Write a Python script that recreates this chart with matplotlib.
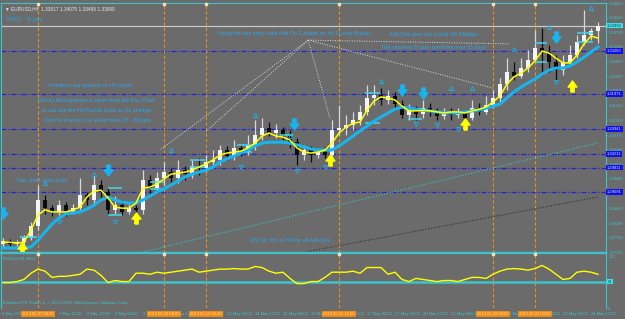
import matplotlib
matplotlib.use("Agg")
import matplotlib.pyplot as plt

plt.rcParams['font.family'] = ['Liberation Sans', 'DejaVu Sans']

# ---- DATA (EURUSD H4) ----
opens = [1.2756, 1.2765, 1.2756, 1.2762, 1.2774, 1.2810, 1.2886, 1.2862, 1.2851, 1.2871,
         1.2851, 1.2862, 1.2901, 1.2886, 1.2930, 1.2909, 1.2857, 1.2871, 1.2851, 1.2862,
         1.2857, 1.2945, 1.2921, 1.2950, 1.2968, 1.2950, 1.2974, 1.2962, 1.2986, 1.2980,
         1.2998, 1.3004, 1.3033, 1.3015, 1.3039, 1.3027, 1.3048, 1.3077, 1.3098, 1.3083,
         1.3092, 1.3074, 1.3056, 1.3018, 1.3033, 1.3018, 1.3027, 1.3018, 1.3092, 1.3098,
         1.3106, 1.3121, 1.3145, 1.3186, 1.3195, 1.3180, 1.3192, 1.3168, 1.3136, 1.3150,
         1.3139, 1.3156, 1.3145, 1.3133, 1.3145, 1.3136, 1.3142, 1.3127, 1.3156, 1.3145,
         1.3165, 1.3186, 1.3227, 1.3262, 1.3251, 1.3274, 1.3298, 1.3333, 1.3321, 1.3292,
         1.3268, 1.3292, 1.3312, 1.3351, 1.3371, 1.3382]
closes = [1.2765, 1.2756, 1.2762, 1.2774, 1.2810, 1.2886, 1.2862, 1.2851, 1.2871, 1.2851,
          1.2862, 1.2901, 1.2886, 1.2930, 1.2909, 1.2857, 1.2871, 1.2851, 1.2862, 1.2857,
          1.2945, 1.2921, 1.2950, 1.2968, 1.2950, 1.2974, 1.2962, 1.2986, 1.2980, 1.2998,
          1.3004, 1.3033, 1.3015, 1.3039, 1.3027, 1.3048, 1.3077, 1.3098, 1.3083, 1.3092,
          1.3074, 1.3056, 1.3018, 1.3033, 1.3018, 1.3027, 1.3018, 1.3092, 1.3098, 1.3106,
          1.3121, 1.3145, 1.3186, 1.3195, 1.3180, 1.3192, 1.3168, 1.3136, 1.3150, 1.3139,
          1.3156, 1.3145, 1.3133, 1.3145, 1.3136, 1.3142, 1.3127, 1.3156, 1.3145, 1.3165,
          1.3186, 1.3227, 1.3262, 1.3251, 1.3274, 1.3298, 1.3333, 1.3321, 1.3292, 1.3268,
          1.3292, 1.3312, 1.3351, 1.3371, 1.3382, 1.3399]
highs = [1.2774, 1.2771, 1.2768, 1.2783, 1.2821, 1.2930, 1.2901, 1.2871, 1.2886, 1.2880,
         1.2874, 1.2950, 1.2909, 1.2956, 1.2945, 1.2921, 1.2898, 1.2886, 1.2874, 1.2871,
         1.2974, 1.2959, 1.2968, 1.2998, 1.2980, 1.3004, 1.2986, 1.3004, 1.3010, 1.3018,
         1.3033, 1.3048, 1.3045, 1.3062, 1.3048, 1.3077, 1.3121, 1.3127, 1.3115, 1.3109,
         1.3101, 1.3092, 1.3068, 1.3048, 1.3045, 1.3039, 1.3042, 1.3121, 1.3165, 1.3136,
         1.3145, 1.3165, 1.3224, 1.3224, 1.3215, 1.3209, 1.3203, 1.3180, 1.3168, 1.3162,
         1.3180, 1.3171, 1.3156, 1.3156, 1.3156, 1.3156, 1.3150, 1.3180, 1.3171, 1.3192,
         1.3209, 1.3245, 1.3303, 1.3292, 1.3303, 1.3327, 1.3386, 1.3392, 1.3342, 1.3312,
         1.3312, 1.3342, 1.3371, 1.3445, 1.3392, 1.3408]
lows = [1.2748, 1.2751, 1.2748, 1.2754, 1.2768, 1.2798, 1.2845, 1.2839, 1.2842, 1.2839,
        1.2845, 1.2857, 1.2871, 1.2877, 1.2892, 1.2842, 1.2845, 1.2842, 1.2845, 1.2839,
        1.2845, 1.2901, 1.2909, 1.2930, 1.2939, 1.2936, 1.2945, 1.2950, 1.2959, 1.2968,
        1.2980, 1.2989, 1.3004, 1.3004, 1.3015, 1.3018, 1.3033, 1.3062, 1.3074, 1.3068,
        1.3062, 1.3039, 1.2989, 1.3004, 1.2998, 1.3010, 1.3010, 1.3004, 1.3077, 1.3077,
        1.3092, 1.3106, 1.3136, 1.3165, 1.3165, 1.3168, 1.3156, 1.3127, 1.3121, 1.3121,
        1.3127, 1.3133, 1.3121, 1.3124, 1.3121, 1.3127, 1.3106, 1.3121, 1.3136, 1.3139,
        1.3156, 1.3174, 1.3209, 1.3239, 1.3245, 1.3262, 1.3292, 1.3253, 1.3262, 1.3239,
        1.3253, 1.3283, 1.3303, 1.3342, 1.3356, 1.3349]

# fast (yellow) and slow (blue) moving averages
ma_fast = [1.2762, 1.2762, 1.2759, 1.2762, 1.2798, 1.2842, 1.2857, 1.2851, 1.2851, 1.2851,
           1.2857, 1.2865, 1.2895, 1.2912, 1.2915, 1.2892, 1.2865, 1.2862, 1.2862, 1.2877,
           1.2921, 1.2924, 1.2933, 1.2948, 1.2962, 1.2965, 1.2968, 1.2974, 1.2983, 1.2992,
           1.3004, 1.3018, 1.3024, 1.3027, 1.3030, 1.3039, 1.3053, 1.3074, 1.3083, 1.3074,
           1.3071, 1.3062, 1.3039, 1.3027, 1.3024, 1.3027, 1.3033, 1.3053, 1.3083, 1.3100,
           1.3112, 1.3115, 1.3150, 1.3177, 1.3189, 1.3186, 1.3180, 1.3162, 1.3148, 1.3148,
           1.3150, 1.3148, 1.3145, 1.3142, 1.3145, 1.3145, 1.3142, 1.3148, 1.3153, 1.3159,
           1.3174, 1.3192, 1.3227, 1.3248, 1.3259, 1.3274, 1.3295, 1.3324, 1.3318, 1.3303,
           1.3289, 1.3289, 1.3312, 1.3345, 1.3368, 1.3362]
ma_slow = [1.2745, 1.2745, 1.2745, 1.2745, 1.2748, 1.2768, 1.2792, 1.2815, 1.2833, 1.2845,
           1.2848, 1.2851, 1.2859, 1.2871, 1.2886, 1.2895, 1.2886, 1.2880, 1.2877, 1.2877,
           1.2886, 1.2898, 1.2910, 1.2918, 1.2930, 1.2942, 1.2954, 1.2962, 1.2968, 1.2974,
           1.2983, 1.2998, 1.3007, 1.3015, 1.3024, 1.3033, 1.3045, 1.3053, 1.3056, 1.3056,
           1.3056, 1.3053, 1.3048, 1.3042, 1.3036, 1.3033, 1.3033, 1.3033, 1.3045, 1.3059,
           1.3074, 1.3089, 1.3103, 1.3118, 1.3130, 1.3142, 1.3153, 1.3159, 1.3156, 1.3153,
           1.3150, 1.3148, 1.3145, 1.3142, 1.3142, 1.3142, 1.3145, 1.3148, 1.3150, 1.3156,
           1.3162, 1.3168, 1.3186, 1.3204, 1.3218, 1.3230, 1.3242, 1.3256, 1.3268, 1.3274,
           1.3274, 1.3280, 1.3292, 1.3306, 1.3321, 1.3336]

rsi = [49, 49, 51, 55, 67, 75, 71, 59, 61, 61, 63, 65, 75, 73, 63, 49, 53, 51, 51, 67,
       67, 65, 69, 67, 69, 71, 73, 75, 69, 71, 73, 75, 75, 76, 75, 75, 80, 78, 71, 67,
       69, 57, 47, 47, 51, 51, 59, 69, 69, 69, 71, 67, 78, 78, 78, 65, 69, 55, 51, 57,
       55, 53, 51, 53, 53, 51, 55, 59, 59, 57, 65, 71, 75, 76, 75, 73, 76, 82, 75, 65,
       55, 57, 69, 71, 69, 65]

price_ticks = [1.34650, 1.34220, 1.33790, 1.33360, 1.32930, 1.32500, 1.32070, 1.31630,
               1.31200, 1.30770, 1.30340, 1.29910, 1.29480, 1.28610, 1.28180, 1.27750, 1.27320]
level_lines = [1.33250, 1.31971, 1.30941, 1.30211, 1.29811, 1.29091]
bid = 1.33990

time_ticks = [8, 12, 16, 20, 24, 28, 32, 36, 40, 44, 48, 52, 56, 60, 64, 68, 72, 76, 80, 84]
time_labels = ["7 May 20:00", "8 May 12:00", "9 May 04:00", "9 May 20:00", "10 May 12:00",
               "13 May 04:00", "13 May 20:00", "14 May 12:00", "15 May 04:00", "15 May 20:00",
               "16 May 12:00", "17 May 04:00", "17 May 20:00", "20 May 12:00", "21 May 04:00",
               "21 May 20:00", "22 May 12:00", "23 May 04:00", "23 May 20:00", "24 May 12:00"]
vline_bars = [5, 23, 29, 48, 70, 76]
vline_labels = ["2013.05.07 08:00", "2013.05.10 08:00", "2013.05.13 08:00",
                "2013.05.16 12:00", "2013.05.22 04:00", "2013.05.23 04:00"]

# fractals and signal arrows (bar, price)
fract_up_x = [6, 13, 24, 36, 41, 54, 64, 67, 73, 78, 84]
fract_up_y = [1.2936, 1.2962, 1.3033, 1.3136, 1.3074, 1.3236, 1.3215, 1.3215, 1.3330, 1.3395, 1.3451]
fract_dn_x = [8, 16, 34, 42, 46, 59, 62, 65, 79]
fract_dn_y = [1.2821, 1.2821, 1.2983, 1.2971, 1.2983, 1.3109, 1.3106, 1.3095, 1.3233]
sell_x = [0, 15, 41.6, 57, 60, 79]
sell_y = [1.2848, 1.2974, 1.3109, 1.3209, 1.3201, 1.3365]
buy_x = [2.7, 19, 46.7, 66, 81.3]
buy_y = [1.2745, 1.2833, 1.3004, 1.3109, 1.3221]

# cyan boxes (start bar, end bar, price)
box_x0 = [2.4, 15, 15, 21, 21, 26.7, 26.7, 33.4, 33.4, 39.6, 51.7, 51.7, 57.9, 57.9, 76, 76, 82, 82]
box_x1 = [4.9, 17, 17, 23, 23, 28.9, 28.9, 35.6, 35.6, 41.4, 53.9, 53.9, 59.9, 59.9, 77.7, 77.7, 84.3, 84.3]
box_y = [1.2777, 1.2921, 1.2842, 1.2939, 1.2918, 1.3004, 1.2983, 1.3048, 1.3027, 1.3077,
         1.3201, 1.3112, 1.3154, 1.3124, 1.3348, 1.3292, 1.3377, 1.3351]

BG = '#6b6b6b'
CYAN = '#18b4ee'
TEAL = '#3cc4cc'
TXT = '#28a8ee'
ORANGE = '#e8901c'
BLUE = '#2222d8'
AX_FS = 3.0

fig = plt.figure(figsize=(6.25, 3.19), dpi=100, facecolor=BG)
ax = fig.add_axes([1 / 625, 66 / 319, 605 / 625, 250 / 319], facecolor=BG)
rx = fig.add_axes([1 / 625, 11 / 319, 605 / 625, 55 / 319], facecolor=BG, sharex=ax)

n = len(closes)
bars = list(range(n))
ax.set_xlim(-2 / 7, 603 / 7)
ax.set_ylim(1.27302, 1.34652)

# horizontal levels, bid line, vertical time lines
for lv in level_lines:
    ax.axhline(lv, color=BLUE, lw=0.9, dashes=[4, 1.5, 1, 1.5], zorder=1)
    ax.text(1.002, lv, f"{lv:.5f}", transform=ax.get_yaxis_transform(), fontsize=AX_FS,
            color='#d8e0ff', va='center', ha='left',
            bbox=dict(fc='#1010e8', ec='none', pad=0.6))
ax.axhline(bid, color='#c8c8c8', lw=0.9, zorder=1)
ax.text(1.002, bid, f"{bid:.5f}", transform=ax.get_yaxis_transform(), fontsize=AX_FS,
        color='#104040', va='center', ha='left', bbox=dict(fc='#40e0e8', ec='none', pad=0.6))

for b in vline_bars:
    for a in (ax, rx):
        a.axvline(b, color=ORANGE, lw=0.8, dashes=[3, 2], zorder=1)
    ax.plot([b], [1.3463], marker='s', ms=1.6, color='#f0e0c0', zorder=6, clip_on=False)

# trend lines from the apex
apex = (43.6, 1.3356)
for ex, ey in [(22.4, 1.3033), (28.9, 1.3086), (46.7, 1.3127), (70, 1.3215), (72.4, 1.3345)]:
    ax.plot([apex[0], ex], [apex[1], ey], color='#d8d8d8', lw=0.7, ls=(0, (1, 1.5)), zorder=2)
ax.plot([19.3, 85], [1.2730, 1.3054], color='#30c8c8', lw=0.8, ls=(0, (1, 1.5)), zorder=2)
ax.plot([42.4, 85], [1.2730, 1.2895], color='#303030', lw=0.8, ls=(0, (1, 1.5)), zorder=2)

# candles
for i in bars:
    up = closes[i] >= opens[i]
    col = '#f4f4f4' if up else '#0c0c0c'
    wick = '#d8d8d8' if up else '#0c0c0c'
    ax.vlines(i, lows[i], highs[i], color=wick, lw=0.9, zorder=3)
    body = max(abs(closes[i] - opens[i]), 0.0002)
    ax.bar(i, body, bottom=min(opens[i], closes[i]), width=0.45, color=col, zorder=4)

# cyan boxes
ax.hlines(box_y, box_x0, box_x1, color='#40d8f0', lw=1.1, zorder=5)

# moving averages
ax.plot(bars, ma_slow, color=CYAN, lw=2.2, zorder=5)
ax.plot(bars, ma_fast, color='#ffff00', lw=1.1, zorder=6)

# fractals and arrows
ax.plot(fract_up_x, fract_up_y, ls='none', marker='^', mfc='none', mec=CYAN, ms=3, mew=0.6, zorder=7)
ax.plot(fract_dn_x, fract_dn_y, ls='none', marker='v', mfc='none', mec=CYAN, ms=3, mew=0.6, zorder=7)
down_arrow = [(-0.3, 1), (0.3, 1), (0.3, 0.1), (0.8, 0.1), (0, -1), (-0.8, 0.1), (-0.3, 0.1), (-0.3, 1)]
up_arrow = [(x, -y) for x, y in down_arrow]
ax.plot(sell_x, sell_y, ls='none', marker=down_arrow, color=CYAN, ms=8, zorder=8)
ax.plot(buy_x, buy_y, ls='none', marker=up_arrow, color='#ffff00', ms=8, zorder=8)

# notes written on the chart
fs = 3.9
ax.text(30.7, 1.3377, "Using the day entry, take Add On Candles on H4 Fractal Breaks", fontsize=fs, color=TXT, va='center')
ax.text(55.1, 1.3374, "Add One give you a total of1,830pips", fontsize=fs, color=TXT, va='center')
ax.text(54.0, 1.3333, "This requires 5 open positions over 15 days", fontsize=fs, color=TXT, va='center')
ax.text(6.6, 1.3224, "Positions are opened on H4 charts", fontsize=fs, color=TXT, va='center')
ax.text(5.0, 1.3180, "Money Management is taken from the Day Chart", fontsize=fs, color=TXT, va='center')
ax.text(5.4, 1.3150, "or can use the H4 Fractal Lows as SL settings", fontsize=fs, color=TXT, va='center')
ax.text(5.9, 1.3121, "Use the Fractal Low value minis 25 - 30 pips", fontsize=fs, color=TXT, va='center')
ax.text(2.0, 1.2942, "Day chart entry point", fontsize=fs, color=TXT, va='center')
ax.text(35.3, 1.2768, "RSI 10 >51 on H4 for all Add-Ons", fontsize=fs, color=TXT, va='center')
ax.text(0.006, 0.985, "\u25bc EURUSD,H4  1.33817 1.34075 1.33488 1.33990", transform=ax.transAxes,
        fontsize=3.4, color='#e8e8e8', va='top')
ax.text(0.008, 0.945, "ATR(7)    43 pips", transform=ax.transAxes, fontsize=3.4, color=TXT, va='top')

# price axis on the right
ax.yaxis.tick_right()
ax.set_yticks(price_ticks)
ax.set_yticklabels([f"{p:.5f}" for p in price_ticks])
ax.tick_params(axis='y', labelsize=AX_FS, colors=TEAL, length=1, width=0.5, pad=0.6)
ax.tick_params(axis='x', bottom=False, labelbottom=False)
for side, sp in ax.spines.items():
    sp.set_color(TEAL)
    sp.set_linewidth(0.8)
ax.spines['bottom'].set_linewidth(1.6)

# RSI panel
rx.set_ylim(0, 106)
rx.plot(bars, rsi, color='#ffff00', lw=1.0, zorder=4)
rx.axhline(51, color=TEAL, lw=1.8, zorder=3)
rx.yaxis.tick_right()
rx.set_yticks([0, 100])
rx.tick_params(axis='y', labelsize=AX_FS, colors=TEAL, length=1, width=0.5, pad=0.6)
rx.tick_params(axis='x', bottom=False, labelbottom=False)
rx.text(1.003, 51, "51", transform=rx.get_yaxis_transform(), fontsize=AX_FS, color='#104040',
        va='center', bbox=dict(fc='#40e0e8', ec='none', pad=0.5))
for side, sp in rx.spines.items():
    sp.set_color(TEAL)
    sp.set_linewidth(0.8)
rx.spines['top'].set_linewidth(1.6)
rx.spines['bottom'].set_visible(False)
rx.text(0.004, 0.93, "RSI(10) 49.3461", transform=rx.transAxes, fontsize=3.2, color=TEAL, va='top')
rx.text(0.004, 0.06, "Interbank FX Trader 4, \u00a9 2001-2013, MetaQuotes Software Corp.",
        transform=rx.transAxes, fontsize=3.2, color=TEAL, va='bottom')
for b in vline_bars:
    rx.plot([b], [105], marker='s', ms=1.6, color='#f0e0c0', zorder=6, clip_on=False)

# time axis
xt = rx.get_xaxis_transform()
rx.text(-0.2, -0.07, "6 May 2013", transform=xt, fontsize=AX_FS, color=TEAL, va='top', clip_on=False)
for b, lab in zip(time_ticks, time_labels):
    rx.text(b, -0.07, lab, transform=xt, fontsize=AX_FS, color=TEAL, va='top', clip_on=False)
for b, lab in zip(vline_bars, vline_labels):
    rx.text(b, -0.07, lab, transform=xt, fontsize=AX_FS, color='#ffe0b0', va='top', ha='center',
            bbox=dict(fc='#f08a10', ec='none', pad=0.6), zorder=10, clip_on=False)

fig.savefig("out.png", dpi=100, facecolor=BG)
